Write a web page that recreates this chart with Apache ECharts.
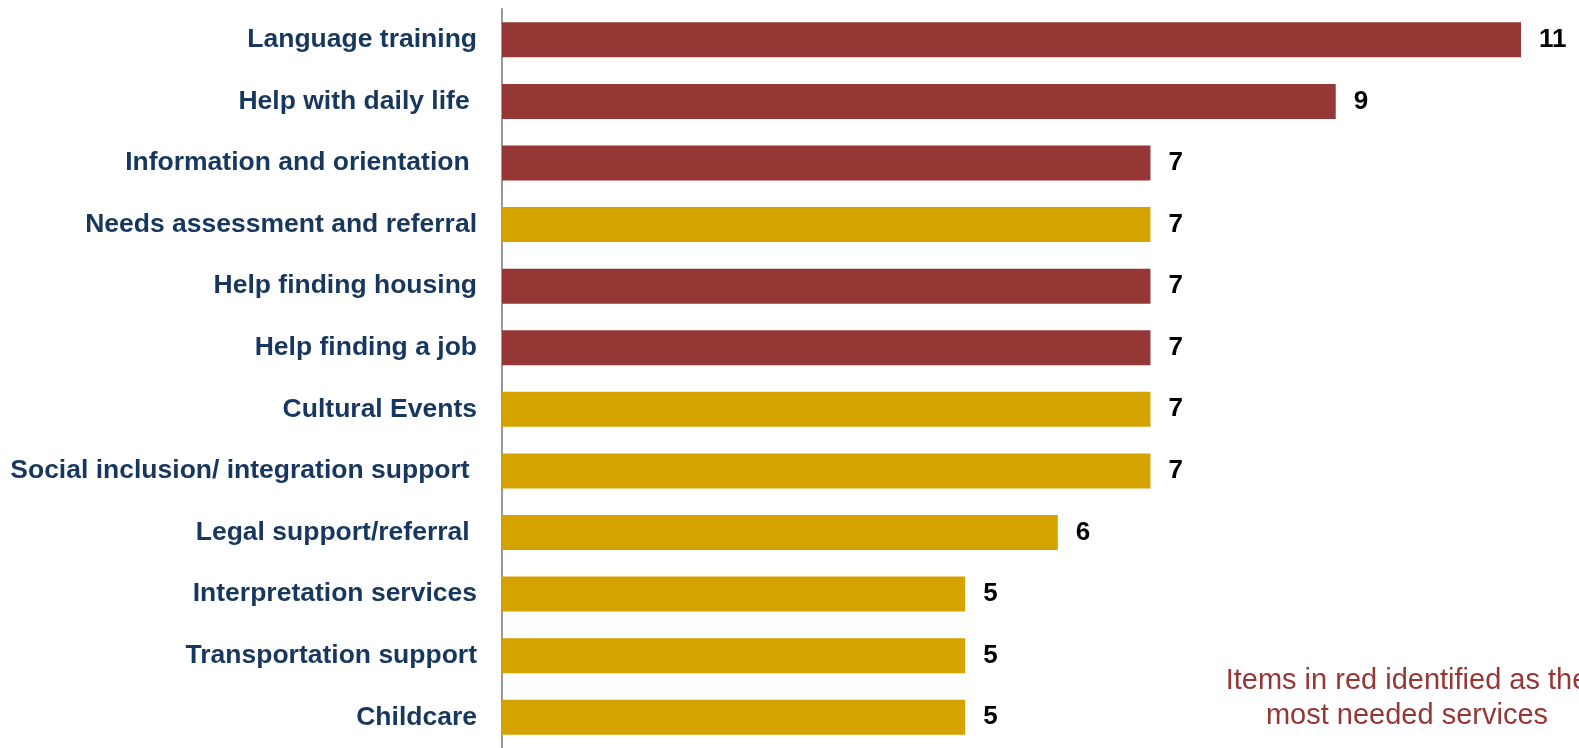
<!DOCTYPE html>
<html>
<head>
<meta charset="utf-8">
<script src="https://cdn.jsdelivr.net/npm/echarts@6/dist/echarts.min.js"></script>
<style>html,body{margin:0;padding:0;background:#fff}#c{width:1579px;height:748px}</style>
</head>
<body>
<div id="c"></div>
<script>
const categories = [
  "Language training",
  "Help with daily life ",
  "Information and orientation ",
  "Needs assessment and referral",
  "Help finding housing",
  "Help finding a job",
  "Cultural Events",
  "Social inclusion/ integration support ",
  "Legal support/referral ",
  "Interpretation services",
  "Transportation support",
  "Childcare"
];
const values = [11, 9, 7, 7, 7, 7, 7, 7, 6, 5, 5, 5];
const mostNeeded = [true, true, true, false, true, true, false, false, false, false, false, false];
const noteLines = ["Items in red identified as the", "most needed services"];

const RED = "#953735", GOLD = "#D5A300";
const FONT = '"Liberation Sans", Arial, sans-serif';
const chart = echarts.init(document.getElementById('c'));
chart.setOption({
  animation: false,
  grid: {left: 502, right: 58, top: 9, bottom: 0, containLabel: false},
  xAxis: {type: 'value', min: 0, max: 11, show: false, splitLine: {show: false}},
  yAxis: {
    type: 'category', data: categories, inverse: true,
    axisLine: {show: true, lineStyle: {color: '#999999', width: 2}},
    axisTick: {show: false},
    axisLabel: {color: '#17375E', fontSize: 26.5, fontWeight: 'bold', fontFamily: FONT, margin: 25}
  },
  series: [{
    type: 'bar', barWidth: 35,
    data: values.map((v, i) => ({value: v, itemStyle: {color: mostNeeded[i] ? RED : GOLD}})),
    label: {show: true, position: 'right', distance: 18, color: '#000', fontSize: 26, fontWeight: 'bold', fontFamily: FONT}
  }],
  graphic: [{
    type: 'text', x: 1407, y: 663,
    style: {text: noteLines.join('\n'), fill: RED, fontSize: 29, fontFamily: FONT, lineHeight: 35, textAlign: 'center', align: 'center', textVerticalAlign: 'top'}
  }]
});
</script>
</body>
</html>
